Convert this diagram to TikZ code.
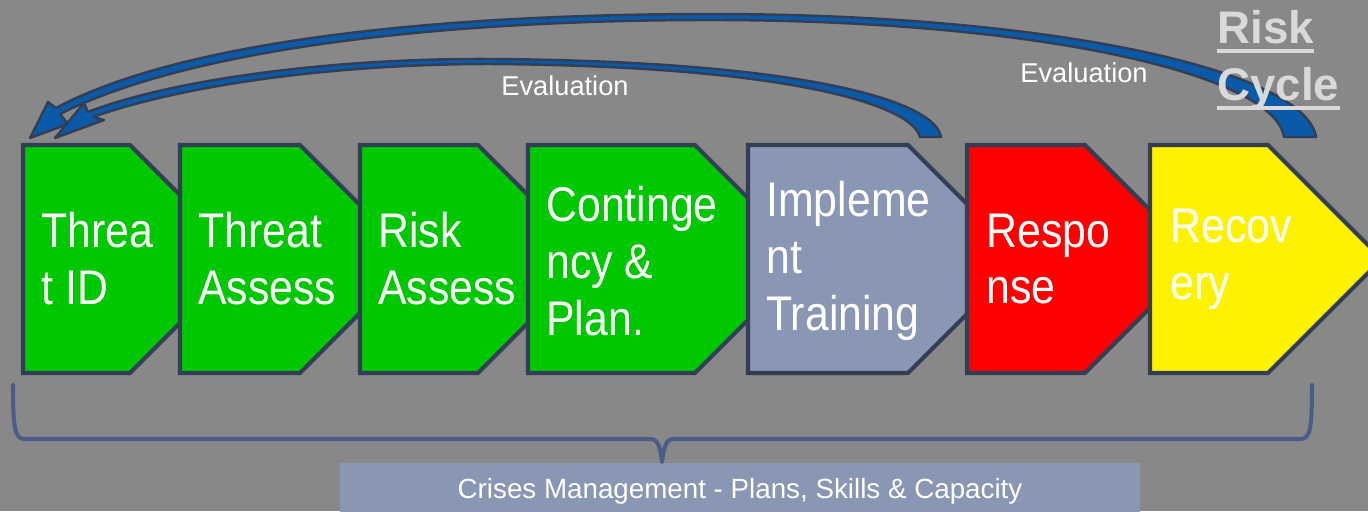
\documentclass[tikz,border=0pt]{standalone}
\usepackage{fontspec}
\setmainfont{Liberation Sans}
\newfontfamily\boxfont{Liberation Sans}[FakeStretch=0.88]
\definecolor{bg}{RGB}{136,136,136}
\definecolor{edge}{RGB}{50,62,84}
\definecolor{boxgreen}{RGB}{0,200,0}
\definecolor{slate}{RGB}{137,150,180}
\definecolor{bracecol}{RGB}{74,92,135}
\definecolor{arrowblue}{RGB}{10,90,170}
\definecolor{titlegray}{RGB}{217,217,217}
\newcommand\chevron[3]{%
  \draw[chev, fill=#3] (#1,145) -- (#2,145) -- ({#2+114},259) -- (#2,373) -- (#1,373) -- cycle;}
\begin{document}
\begin{tikzpicture}[x=0.02cm,y=-0.02cm,
  chev/.style={draw=edge, line width=2.3pt, line join=miter},
  boxtext/.style={anchor=west, align=left, inner sep=0pt, text=white,
    font=\boxfont\fontsize{27.7}{32.4}\selectfont},
  evaltext/.style={anchor=base, inner sep=0pt, text=white, font=\fontsize{15.5}{18}\selectfont},
  titletext/.style={anchor=base west, inner sep=0pt, text=titlegray, font=\bfseries\fontsize{26}{30}\selectfont},
  titleline/.style={draw=titlegray, line width=2.2pt},
  cyclearrow/.style={draw=edge, fill=arrowblue, line width=1.4pt, line join=round},
  bracestyle/.style={draw=bracecol, line width=2.3pt, line cap=round, line join=round},
  crisisbox/.style={fill=slate, text=white, inner sep=0pt, minimum width=16cm, minimum height=1.2cm,
    anchor=north west, font=\fontsize{15.8}{18}\selectfont}]
\useasboundingbox (0,0) rectangle (1368,511);
\fill[bg] (0,0) rectangle (1368,511);
\clip (0,0) rectangle (1368,511);

% chevrons, left to right so that each covers the point of the previous
\chevron{23}{130}{boxgreen}
\chevron{180}{300}{boxgreen}
\chevron{360}{478}{boxgreen}
\chevron{528}{695}{boxgreen}
\chevron{748}{908}{slate}
\chevron{967}{1085}{red}
\chevron{1150}{1268}{yellow}

\node[boxtext] (t1) at (41,259) {Threa\\t ID};
\node[boxtext] (t2) at (198,259) {Threat\\Assess};
\node[boxtext] (t3) at (378,259) {Risk\\Assess};
\node[boxtext] (t4) at (546,261) {Continge\\ncy \&\\Plan.};
\node[boxtext] (t5) at (766,261) {Impleme\\nt\\Training};
\node[boxtext] (t6) at (986,259) {Respo\\nse};
\node[boxtext] (t7) at (1170,259) {Recov\\ery};

% big cycle arrow from Recovery back to Threat ID
\draw[cyclearrow] (1316,137) .. controls (1305,70) and (1050,13) .. (700,14)
  .. controls (400,15) and (170,47) .. (56,108)
  -- (48,102) -- (30,138) -- (68,124) -- (60,114)
  .. controls (175,56) and (400,21) .. (700,20)
  .. controls (1040,19) and (1275,75) .. (1284,137) -- cycle;
% smaller cycle arrow from Implement back to Threat ID
\draw[cyclearrow] (941,137) .. controls (935,100) and (800,61) .. (490,59)
  .. controls (330,58) and (170,80) .. (88,112)
  -- (84,103) -- (55,138) -- (104,120) -- (93,117)
  .. controls (180,86) and (330,64) .. (490,64)
  .. controls (790,66) and (912,105) .. (920,137) -- cycle;

\node[evaltext] (ev1) at (565,95) {Evaluation};
\node[evaltext] (ev2) at (1084,82) {Evaluation};

\node[titletext] (risk) at (1217,43) {Risk};
\node[titletext] (cycle) at (1217,100) {Cycle};
\draw[titleline] ([yshift=-4.5pt]risk.base west) -- ([yshift=-4.5pt]risk.base east);
\draw[titleline] ([yshift=-4.5pt]cycle.base west) -- ([yshift=-4.5pt]cycle.base east);

% brace and crisis box
\node[crisisbox] (crisis) at (340,463) {};
\node[anchor=base, inner sep=0pt, text=white, font=\fontsize{15.8}{18}\selectfont] (crisistext) at (740,498) {Crises Management - Plans, Skills \& Capacity};
\draw[bracestyle] (13,385) .. controls (13,430) and (15,439) .. (25,439) -- (650,439)
  .. controls (658,439) and (660,446) .. (662,462)
  .. controls (664,446) and (666,439) .. (674,439) -- (1300,439)
  .. controls (1310,439) and (1312,430) .. (1312,385);
\end{tikzpicture}
\end{document}
